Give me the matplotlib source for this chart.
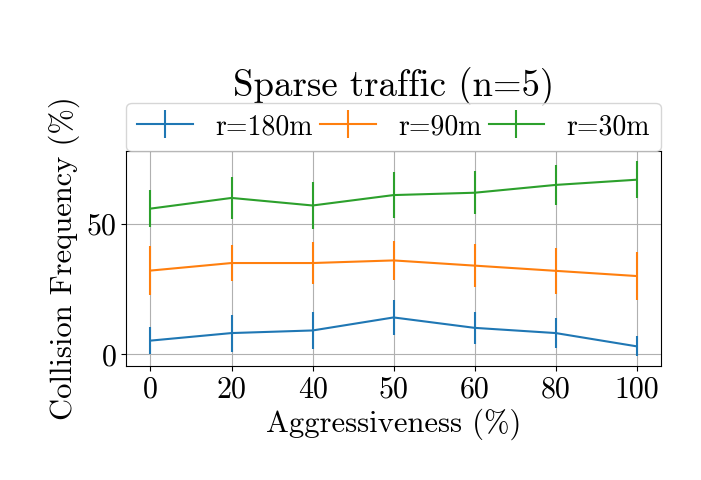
import numpy as np
import matplotlib
matplotlib.use("Agg")
import matplotlib.pyplot as plt

plt.rcParams["font.family"] = "serif"
plt.rcParams["font.serif"] = ["cmr10"]
plt.rcParams["mathtext.fontset"] = "cm"
plt.rcParams["axes.formatter.use_mathtext"] = True

# значення
aggr = ["0", "20", "40", "50", "60", "80", "100"]
r180 = [5.3, 8.2, 9.2, 14.2, 10.2, 8.2, 3.1]
r180_err = [5.1, 7.1, 7.0, 6.8, 6.2, 5.7, 3.8]
r90 = [32.2, 35.1, 35.1, 36.1, 34.1, 32.1, 30.1]
r90_err = [9.3, 7.0, 8.2, 7.6, 8.3, 8.9, 9.3]
r30 = [56.0, 60.1, 57.2, 61.2, 62.1, 65.1, 67.1]
r30_err = [7.2, 8.2, 8.9, 8.7, 8.3, 7.7, 7.2]

x = np.arange(len(aggr))

fig, ax = plt.subplots(figsize=(7.01, 4.8), dpi=100)
ax.errorbar(x, r180, yerr=r180_err, label="r=180m")
ax.errorbar(x, r90, yerr=r90_err, label="r=90m")
ax.errorbar(x, r30, yerr=r30_err, label="r=30m")

ax.set_xticks(x)
ax.set_xticklabels(aggr)
ax.set_yticks([0, 50])
ax.tick_params(labelsize=21.5)
ax.grid(True)
ax.set_xlabel("Aggressiveness (%)", fontsize=22)
ax.set_ylabel("Collision Frequency (%)", fontsize=22)
ax.set_title("Sparse traffic (n=5)", fontsize=26.5, pad=40)
ax.legend(bbox_to_anchor=(0, 1.0, 1, 0.102), loc="lower left", ncol=3,
          mode="expand", borderaxespad=0, fontsize=20)

plt.subplots_adjust(left=0.18, right=0.943, top=0.685, bottom=0.2375)
plt.savefig("out.png")
